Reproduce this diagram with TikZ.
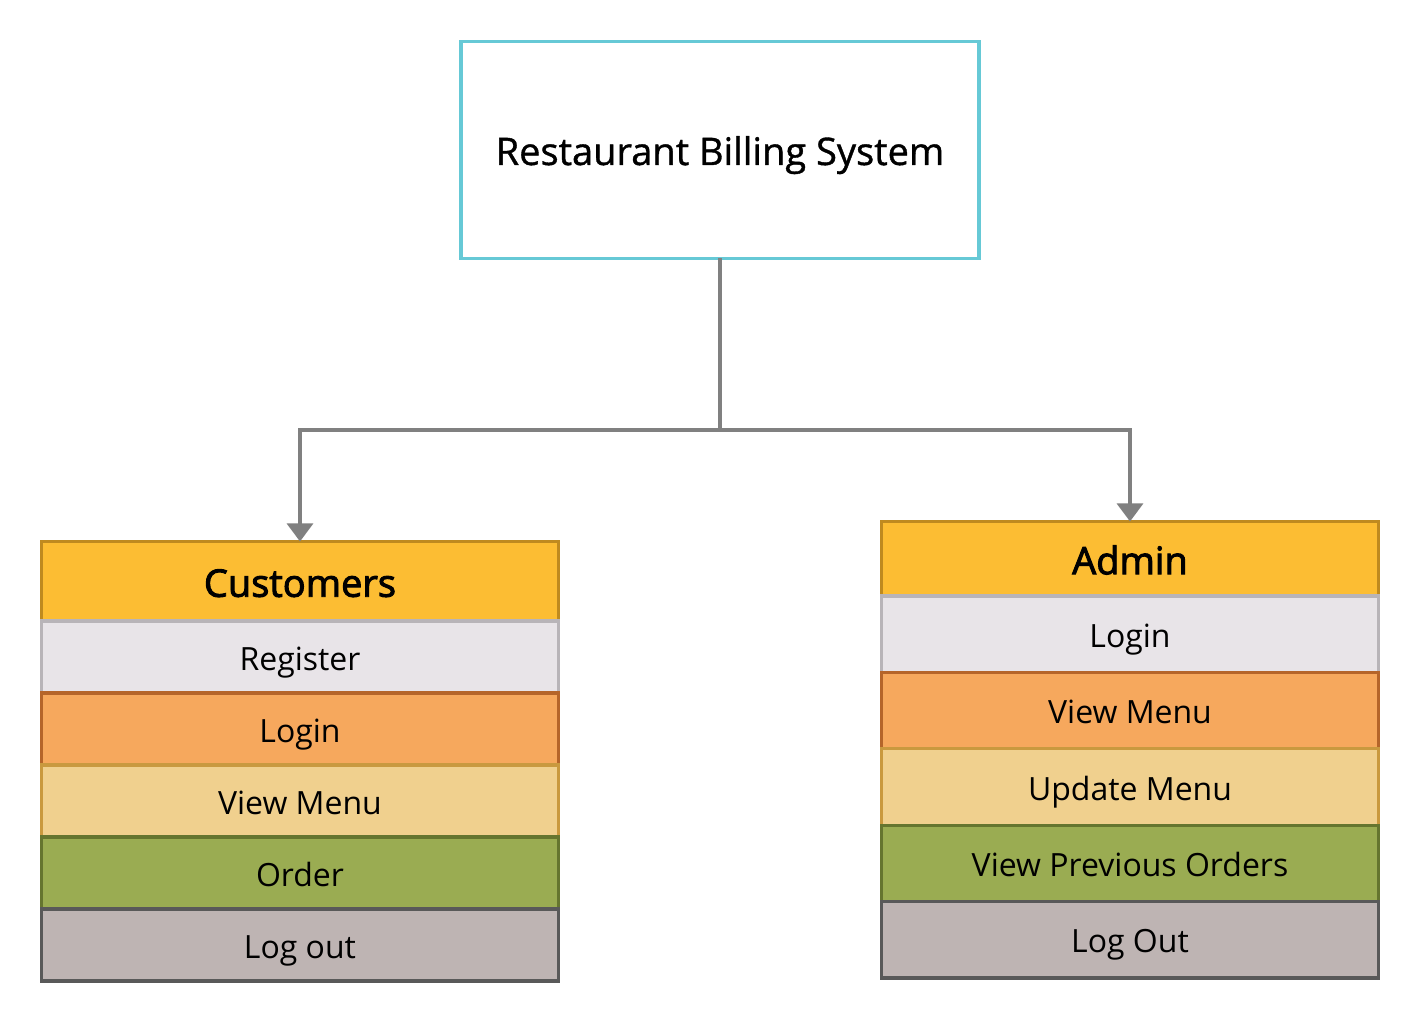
\documentclass[tikz,border=0pt]{standalone}
\usepackage{fontspec}
\setmainfont{Open Sans}
\newfontfamily\titlefont[FakeBold=1]{Open Sans}
\newfontfamily\headfont[FakeBold=2.5]{Open Sans}
\usepackage{xcolor}
\usepackage{tikz}
\usetikzlibrary{positioning,arrows.meta}

\definecolor{titleline}{HTML}{66C9D6}
\definecolor{headfill}{HTML}{FCBD33}
\definecolor{headline}{HTML}{BF8A1F}
\definecolor{greyfill}{HTML}{E8E4E8}
\definecolor{greyline}{HTML}{B8B4B8}
\definecolor{orangefill}{HTML}{F6A85D}
\definecolor{orangeline}{HTML}{B5652A}
\definecolor{sandfill}{HTML}{F0D08E}
\definecolor{sandline}{HTML}{C9993F}
\definecolor{greenfill}{HTML}{9AAC52}
\definecolor{greenline}{HTML}{65752F}
\definecolor{stonefill}{HTML}{BEB4B3}
\definecolor{stoneline}{HTML}{595959}
\definecolor{linkgray}{HTML}{808080}

\begin{document}
\begin{tikzpicture}[x=0.5pt,y=-0.5pt,
    box/.style={draw, line width=1.6pt, outer sep=0pt, inner sep=0pt, align=center},
    titlebox/.style={box, draw=titleline, fill=white, minimum width=259pt, minimum height=108.5pt, text height=17pt, text depth=2pt, font=\fontsize{19}{23}\titlefont},
    headbox/.style={box, draw=headline, fill=headfill, text height=17.5pt, text depth=2pt, font=\fontsize{19}{23}\headfont},
    item/.style={box, text height=15pt, text depth=2pt, font=\fontsize{16}{19}\selectfont},
    greyitem/.style={item, draw=greyline, fill=greyfill},
    orangeitem/.style={item, draw=orangeline, fill=orangefill},
    sanditem/.style={item, draw=sandline, fill=sandfill},
    greenitem/.style={item, draw=greenline, fill=greenfill},
    stoneitem/.style={item, draw=stoneline, fill=stonefill},
    link/.style={draw=linkgray, line width=1.6pt},
    linkarrow/.style={link, -{Triangle[width=13pt,length=9pt]}}]
\useasboundingbox (0,0) rectangle (1420,1021);

% Title
\node[titlebox] (sys) at (720,150) {Restaurant Billing System};

% Customers column
\begin{scope}[every node/.append style={minimum width=258.5pt, minimum height=36pt}]
\node[headbox, minimum height=39.75pt] (cust) at (300,581.25) {Customers};
\node[greyitem, below=0pt of cust] (custReg) {Register};
\node[orangeitem, below=0pt of custReg] (custLogin) {Login};
\node[sanditem, below=0pt of custLogin] (custMenu) {View Menu};
\node[greenitem, below=0pt of custMenu] (custOrder) {Order};
\node[stoneitem, below=0pt of custOrder] (custOut) {Log out};
\end{scope}

% Admin column
\begin{scope}[every node/.append style={minimum width=248.5pt, minimum height=38.2pt}]
\node[headbox, minimum height=37.25pt] (admin) at (1130,558.75) {Admin};
\node[greyitem, below=0pt of admin] (admLogin) {Login};
\node[orangeitem, below=0pt of admLogin] (admMenu) {View Menu};
\node[sanditem, below=0pt of admMenu] (admUpdate) {Update Menu};
\node[greenitem, below=0pt of admUpdate] (admOrders) {View Previous Orders};
\node[stoneitem, below=0pt of admOrders] (admOut) {Log Out};
\end{scope}

% Connectors
\coordinate (fork) at (720,430);
\draw[link] (sys.south) -- (fork);
\draw[linkarrow] (fork) -| (cust.north);
\draw[linkarrow] (fork) -| (admin.north);
\end{tikzpicture}
\end{document}
